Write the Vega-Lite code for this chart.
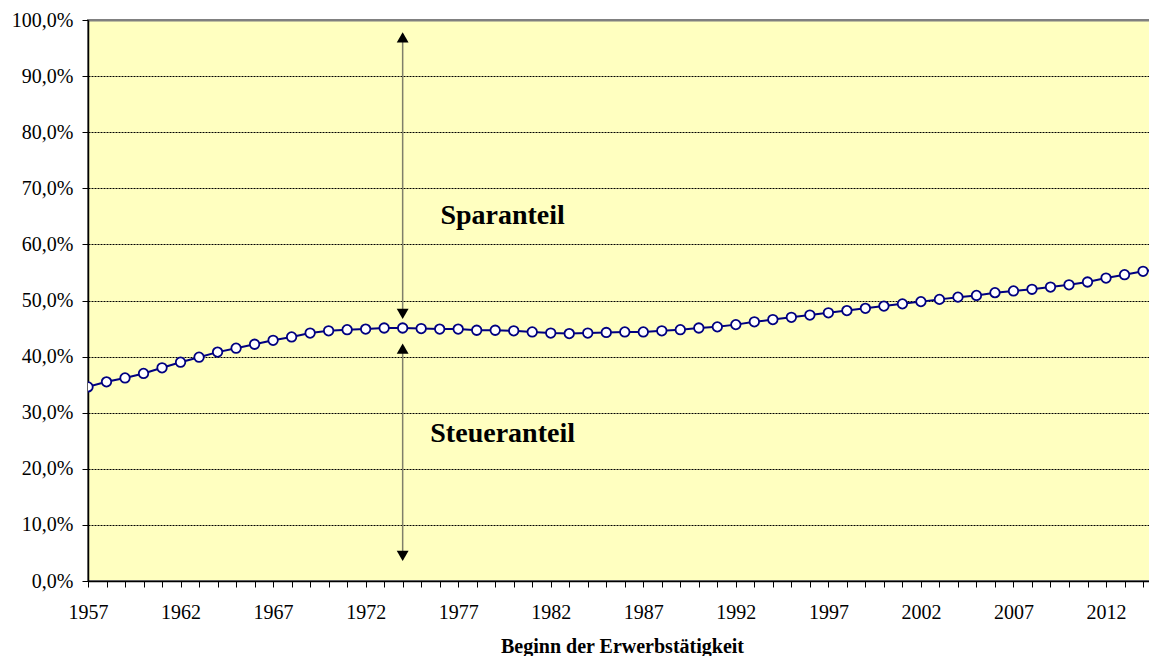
{
  "$schema": "https://vega.github.io/schema/vega-lite/v6.json",
  "width": 1068,
  "height": 561,
  "autosize": {"type": "none"},
  "padding": {"left": 88, "top": 20, "right": 0, "bottom": 75},
  "background": "white",
  "config": {
    "view": {"fill": "#FFFFC0", "stroke": "#808080", "strokeWidth": 2},
    "font": "Liberation Serif"
  },
  "datasets": {
    "series": [
      {"year": 1957, "share": 34.6}, {"year": 1958, "share": 35.5}, {"year": 1959, "share": 36.2},
      {"year": 1960, "share": 37.0}, {"year": 1961, "share": 38.0}, {"year": 1962, "share": 39.0},
      {"year": 1963, "share": 39.9}, {"year": 1964, "share": 40.8}, {"year": 1965, "share": 41.5},
      {"year": 1966, "share": 42.2}, {"year": 1967, "share": 42.9}, {"year": 1968, "share": 43.5},
      {"year": 1969, "share": 44.2}, {"year": 1970, "share": 44.6}, {"year": 1971, "share": 44.8},
      {"year": 1972, "share": 44.9}, {"year": 1973, "share": 45.1}, {"year": 1974, "share": 45.1},
      {"year": 1975, "share": 45.0}, {"year": 1976, "share": 44.9}, {"year": 1977, "share": 44.9},
      {"year": 1978, "share": 44.7}, {"year": 1979, "share": 44.7}, {"year": 1980, "share": 44.6},
      {"year": 1981, "share": 44.4}, {"year": 1982, "share": 44.2}, {"year": 1983, "share": 44.1},
      {"year": 1984, "share": 44.2}, {"year": 1985, "share": 44.3}, {"year": 1986, "share": 44.4},
      {"year": 1987, "share": 44.4}, {"year": 1988, "share": 44.6}, {"year": 1989, "share": 44.8},
      {"year": 1990, "share": 45.1}, {"year": 1991, "share": 45.3}, {"year": 1992, "share": 45.7},
      {"year": 1993, "share": 46.2}, {"year": 1994, "share": 46.6}, {"year": 1995, "share": 47.0},
      {"year": 1996, "share": 47.4}, {"year": 1997, "share": 47.8}, {"year": 1998, "share": 48.2},
      {"year": 1999, "share": 48.6}, {"year": 2000, "share": 49.0}, {"year": 2001, "share": 49.4},
      {"year": 2002, "share": 49.8}, {"year": 2003, "share": 50.2}, {"year": 2004, "share": 50.6},
      {"year": 2005, "share": 50.9}, {"year": 2006, "share": 51.4}, {"year": 2007, "share": 51.7},
      {"year": 2008, "share": 52.0}, {"year": 2009, "share": 52.4}, {"year": 2010, "share": 52.8},
      {"year": 2011, "share": 53.3}, {"year": 2012, "share": 54.0}, {"year": 2013, "share": 54.6},
      {"year": 2014, "share": 55.2}, {"year": 2015, "share": 55.7}
    ],
    "arrows": [
      {"year": 1974, "from": 47.5, "to": 97.5},
      {"year": 1974, "from": 4.5, "to": 41.5}
    ],
    "heads": [
      {"year": 1974, "pos": 96.9, "shape": "triangle-up"},
      {"year": 1974, "pos": 47.6, "shape": "triangle-down"},
      {"year": 1974, "pos": 41.4, "shape": "triangle-up"},
      {"year": 1974, "pos": 4.5, "shape": "triangle-down"}
    ],
    "labels": [
      {"year": 1979.4, "pos": 63.7, "text": "Sparanteil"},
      {"year": 1979.4, "pos": 24.8, "text": "Steueranteil"}
    ]
  },
  "layer": [
    {
      "data": {"name": "series"},
      "mark": {"type": "line", "color": "#000080", "strokeWidth": 2, "clip": true},
      "encoding": {
        "x": {
          "field": "year", "type": "quantitative",
          "scale": {"domain": [1957, 2014.7], "nice": false, "zero": false},
          "axis": {
            "title": "Beginn der Erwerbstätigkeit",
            "titleFont": "Liberation Serif", "titleFontSize": 20, "titleFontWeight": "bold", "titleColor": "black",
            "titleBaseline": "alphabetic", "titleY": 71,
            "tickCount": 200,
            "values": [1957,1958,1959,1960,1961,1962,1963,1964,1965,1966,1967,1968,1969,1970,1971,1972,1973,1974,1975,1976,1977,1978,1979,1980,1981,1982,1983,1984,1985,1986,1987,1988,1989,1990,1991,1992,1993,1994,1995,1996,1997,1998,1999,2000,2001,2002,2003,2004,2005,2006,2007,2008,2009,2010,2011,2012,2013,2014],
            "labelExpr": "(datum.value - 1957) % 5 === 0 ? format(datum.value, 'd') : ''",
            "labelFont": "Liberation Serif", "labelFontSize": 20, "labelColor": "black",
            "labelPadding": 15, "labelOverlap": false, "labelFlush": false,
            "tickSize": 6, "tickColor": "black", "tickWidth": 1,
            "domainColor": "black", "domainWidth": 1.5,
            "grid": false
          }
        },
        "y": {
          "field": "share", "type": "quantitative",
          "scale": {"domain": [0, 100], "nice": false},
          "axis": {
            "title": null,
            "values": [0,10,20,30,40,50,60,70,80,90,100],
            "labelExpr": "replace(format(datum.value, '.1f'), '.', ',') + '%'",
            "labelFont": "Liberation Serif", "labelFontSize": 20, "labelColor": "black",
            "labelPadding": 9,
            "tickSize": 6, "tickColor": "black", "tickWidth": 1,
            "domainColor": "black", "domainWidth": 1.5,
            "grid": true,
            "gridColor": {"condition": {"test": "datum.value === 100", "value": "#808080"}, "value": "black"},
            "gridDash": {"condition": {"test": "datum.value === 100", "value": []}, "value": [2, 1]},
            "gridWidth": {"condition": {"test": "datum.value === 100", "value": 2}, "value": 1}
          }
        }
      }
    },
    {
      "data": {"name": "arrows"},
      "mark": {"type": "rule", "color": "#7f7f6a", "strokeWidth": 1.5},
      "encoding": {
        "x": {"field": "year", "type": "quantitative"},
        "y": {"field": "from", "type": "quantitative"},
        "y2": {"field": "to"}
      }
    },
    {
      "data": {"name": "heads"},
      "mark": {"type": "point", "filled": true, "color": "black", "size": 140, "opacity": 1},
      "encoding": {
        "x": {"field": "year", "type": "quantitative"},
        "y": {"field": "pos", "type": "quantitative"},
        "shape": {"field": "shape", "type": "nominal", "scale": null}
      }
    },
    {
      "data": {"name": "series"},
      "mark": {"type": "point", "filled": true, "fill": "white", "stroke": "#000080", "strokeWidth": 1.8, "size": 90, "opacity": 1, "clip": true},
      "encoding": {
        "x": {"field": "year", "type": "quantitative"},
        "y": {"field": "share", "type": "quantitative"}
      }
    },
    {
      "data": {"name": "labels"},
      "mark": {"type": "text", "font": "Liberation Serif", "fontSize": 28, "fontWeight": "bold", "color": "black", "align": "center", "baseline": "alphabetic"},
      "encoding": {
        "x": {"field": "year", "type": "quantitative"},
        "y": {"field": "pos", "type": "quantitative"},
        "text": {"field": "text"}
      }
    }
  ]
}
